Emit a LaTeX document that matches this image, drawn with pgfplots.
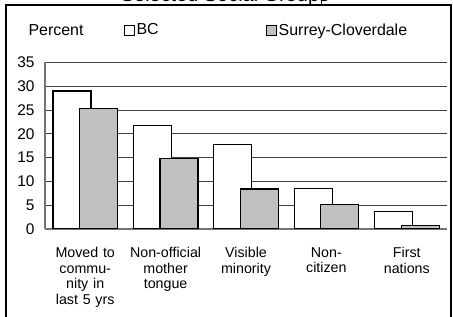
\documentclass[border=0pt]{standalone}
\usepackage{fontspec}
\setmainfont{Liberation Sans}
\usepackage{pgfplots}
\pgfplotsset{compat=1.18}
\definecolor{silverg}{RGB}{192,192,192}
\begin{document}
\begin{tikzpicture}
\useasboundingbox (0bp,0bp) rectangle (453bp,317bp);
\node[anchor=base, inner sep=0pt, font=\fontsize{20}{24}\selectfont] at (225bp,315.5bp) {Selected Social Groups};
\draw[black, line width=1.3bp] (6bp,-2bp) -- (6bp,312bp) -- (451bp,312bp) -- (451bp,-2bp);
\draw[black, line width=1bp] (321bp,312bp) -- (321bp,320bp);
\node[anchor=base, inner sep=0pt, font=\fontsize{16}{19}\selectfont] at (56bp,281.5bp) {Percent};
\begin{axis}[
  at={(45bp,88bp)}, anchor=south west,
  scale only axis, width=402bp, height=166.5bp,
  xmin=-0.5, xmax=4.5, ymin=0, ymax=35,
  ytick={0,5,10,15,20,25,30,35},
  xtick={0,1,2,3,4},
  xticklabels={{Moved to\\commu-\\nity in\\last 5 yrs},{Non-official\\mother\\tongue},{Visible\\minority},{Non-\\citizen},{First\\nations}},
  x tick label style={align=center, text width=80bp, font=\fontsize{14.3}{15.6}\selectfont, yshift=-15bp},
  y tick label style={font=\fontsize{15.5}{18}\selectfont, xshift=-7bp},
  /pgf/number format/assume math mode=true,
  major tick length=0pt,
  ymajorgrids, grid style={black!75, line width=0.8bp},
  axis x line*=bottom, axis y line*=left,
  axis line style={black!55, line width=1.1bp},
  ybar, bar width=38bp,
  legend columns=2,
  legend style={draw=none, fill=none, inner sep=0pt, at={(axis description cs:0.195,1.195)}, anchor=west, font=\fontsize{16}{19}\selectfont, /tikz/every even column/.append style={column sep=105bp}},
]
\addplot[fill=white, draw=black, line width=1.2bp, bar shift=-13.3bp,
  legend image code/.code={\draw[fill=white, draw=black, line width=1bp] (0bp,-5bp) rectangle (10bp,5bp);}]
  coordinates {(0,29.0) (1,21.8) (2,17.8) (3,8.45) (4,3.6)};
\addplot[fill=silverg, draw=black, line width=1.2bp, bar shift=13.3bp,
  legend image code/.code={\draw[fill=silverg, draw=black, line width=1bp] (0bp,-5bp) rectangle (10bp,5bp);}]
  coordinates {(0,25.3) (1,14.9) (2,8.4) (3,5.2) (4,0.8)};
\legend{BC,Surrey-Cloverdale}
\end{axis}
\end{tikzpicture}
\end{document}
